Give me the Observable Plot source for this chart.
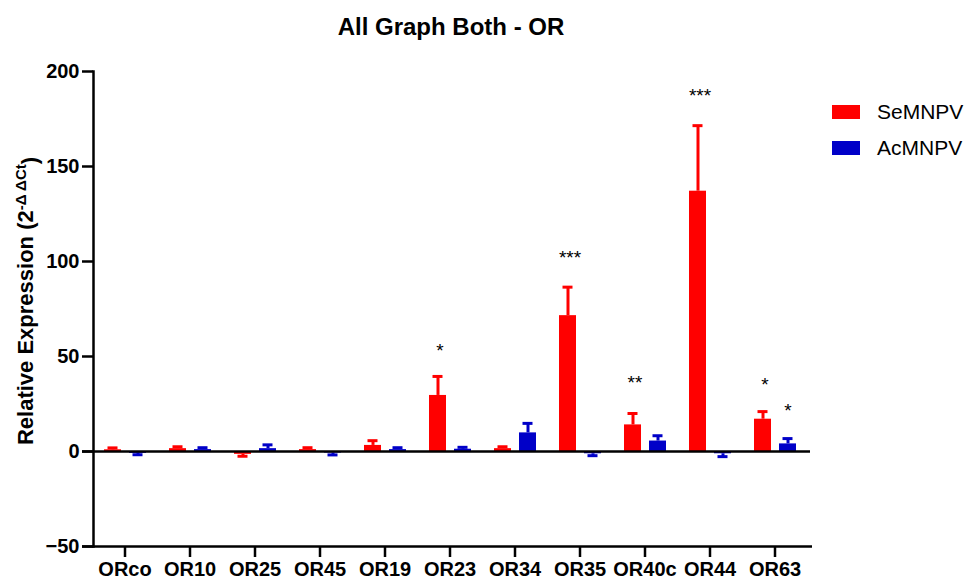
<!DOCTYPE html>
<html><head><meta charset="utf-8">
<script src="https://cdn.jsdelivr.net/npm/d3@7"></script>
<script src="https://cdn.jsdelivr.net/npm/@observablehq/plot@0.6"></script>
<style>
body{margin:0;background:#fff;font-family:"Liberation Sans",Arial,sans-serif;}
#wrap{position:relative;width:966px;height:584px;}
#title{position:absolute;left:0;width:902px;top:13px;text-align:center;font-weight:bold;font-size:24px;color:#000;}
.leg{position:absolute;left:832px;height:24px;font-size:21px;display:flex;align-items:center;color:#000;}
.sw{width:28px;height:14px;margin-right:17px;}
#chart{position:absolute;left:0;top:0;}
</style></head><body>
<div id="wrap">
<div id="chart"></div>
<div id="title">All Graph Both - OR</div>
<div class="leg" style="top:100px"><div class="sw" style="background:#ff0000"></div>SeMNPV</div>
<div class="leg" style="top:136px"><div class="sw" style="background:#0000c8"></div>AcMNPV</div>
</div>
<script>
const groups = ["ORco","OR10","OR25","OR45","OR19","OR23","OR34","OR35","OR40c","OR44","OR63"];
const seValues = [0.9, 1.5, -1.5, 1.0, 3.2, 29.5, 1.5, 71.5, 14, 137, 17];
const seErrors = [1, 1, 1, 1, 2.5, 10, 1, 15, 6, 34.5, 4];
const acValues = [-1.0, 1.0, 1.5, -0.8, 1.0, 1.2, 9.8, -1.2, 5.5, -1.2, 4];
const acErrors = [0.7, 1, 2, 1, 1, 1, 5, 1, 2.8, 1.5, 2.8];
const starGroups = ["OR23","OR35","OR40c","OR44","OR63","OR63"];
const starSeries = ["SeMNPV","SeMNPV","SeMNPV","SeMNPV","SeMNPV","AcMNPV"];
const starLabels = ["*","***","**","***","*","*"];
const starY = [53, 102, 36, 187, 35, 21.5];
const yTicks = [-50, 0, 50, 100, 150, 200];

const RED = "#ff0000", BLUE = "#0000c8";
const rows = (vals, errs) => groups.map((g, i) => ({group: g, value: vals[i], end: vals[i] + Math.sign(vals[i]) * errs[i]}));
const se = rows(seValues, seErrors);
const ac = rows(acValues, acErrors);
const stars = starGroups.map((g, i) => ({group: g, series: starSeries[i], label: starLabels[i], y: starY[i]}));
const dxSe = -12, dxAc = 13;

const chart = Plot.plot({
  width: 966, height: 584,
  marginLeft: 93, marginRight: 154, marginTop: 71, marginBottom: 38,
  style: {fontFamily: "'Liberation Sans', Arial, sans-serif", background: "transparent", overflow: "visible", color: "#000"},
  x: {domain: groups, paddingInner: 0.742, paddingOuter: 0.335, align: 0.443, label: null},
  y: {domain: [-50, 200], label: null},
  marks: [
    Plot.barY(se, {x: "group", y: "value", fill: RED, dx: dxSe}),
    Plot.barY(ac, {x: "group", y: "value", fill: BLUE, dx: dxAc}),
    Plot.ruleX(se, {x: "group", y1: "value", y2: "end", stroke: RED, strokeWidth: 3, dx: dxSe}),
    Plot.ruleX(ac, {x: "group", y1: "value", y2: "end", stroke: BLUE, strokeWidth: 3, dx: dxAc}),
    Plot.tickY(se, {x: "group", y: "end", stroke: RED, strokeWidth: 3, dx: dxSe, insetLeft: 3.5, insetRight: 3.5}),
    Plot.tickY(ac, {x: "group", y: "end", stroke: BLUE, strokeWidth: 3, dx: dxAc, insetLeft: 3.5, insetRight: 3.5}),
    Plot.ruleY([0], {stroke: "#000", strokeWidth: 2.5, insetLeft: -11, insetRight: 2}),
    Plot.ruleY([-50], {stroke: "#000", strokeWidth: 2.5, insetLeft: -11}),
    Plot.frame({anchor: "left", stroke: "#000", strokeWidth: 2.5}),
    Plot.axisY({ticks: yTicks, tickSize: 11, tickPadding: 3, strokeWidth: 2.5, fontSize: 20, fontWeight: "bold", label: null}),
    Plot.axisX({anchor: "bottom", tickSize: 11, tickPadding: 4, strokeWidth: 2.5, fontSize: 20, fontWeight: "bold", label: null}),
    Plot.text(stars.filter(d => d.series === "SeMNPV"), {x: "group", y: "y", text: "label", dx: dxSe + 2, fontSize: 19, letterSpacing: 4}),
    Plot.text(stars.filter(d => d.series === "AcMNPV"), {x: "group", y: "y", text: "label", dx: dxAc, fontSize: 19})
  ]
});
document.getElementById("chart").appendChild(chart);
const svg = d3.select(chart);
const t = svg.append("text")
  .attr("transform", "translate(33,301) rotate(-90)")
  .attr("text-anchor", "middle")
  .attr("font-size", 22)
  .attr("font-weight", "bold")
  .attr("fill", "#000");
t.append("tspan").text("Relative Expression (2");
t.append("tspan").attr("dy", "-0.5em").attr("font-size", 15).text("-\u0394 \u0394Ct");
t.append("tspan").attr("dy", "0.5em").text(")");
</script>
</body></html>
